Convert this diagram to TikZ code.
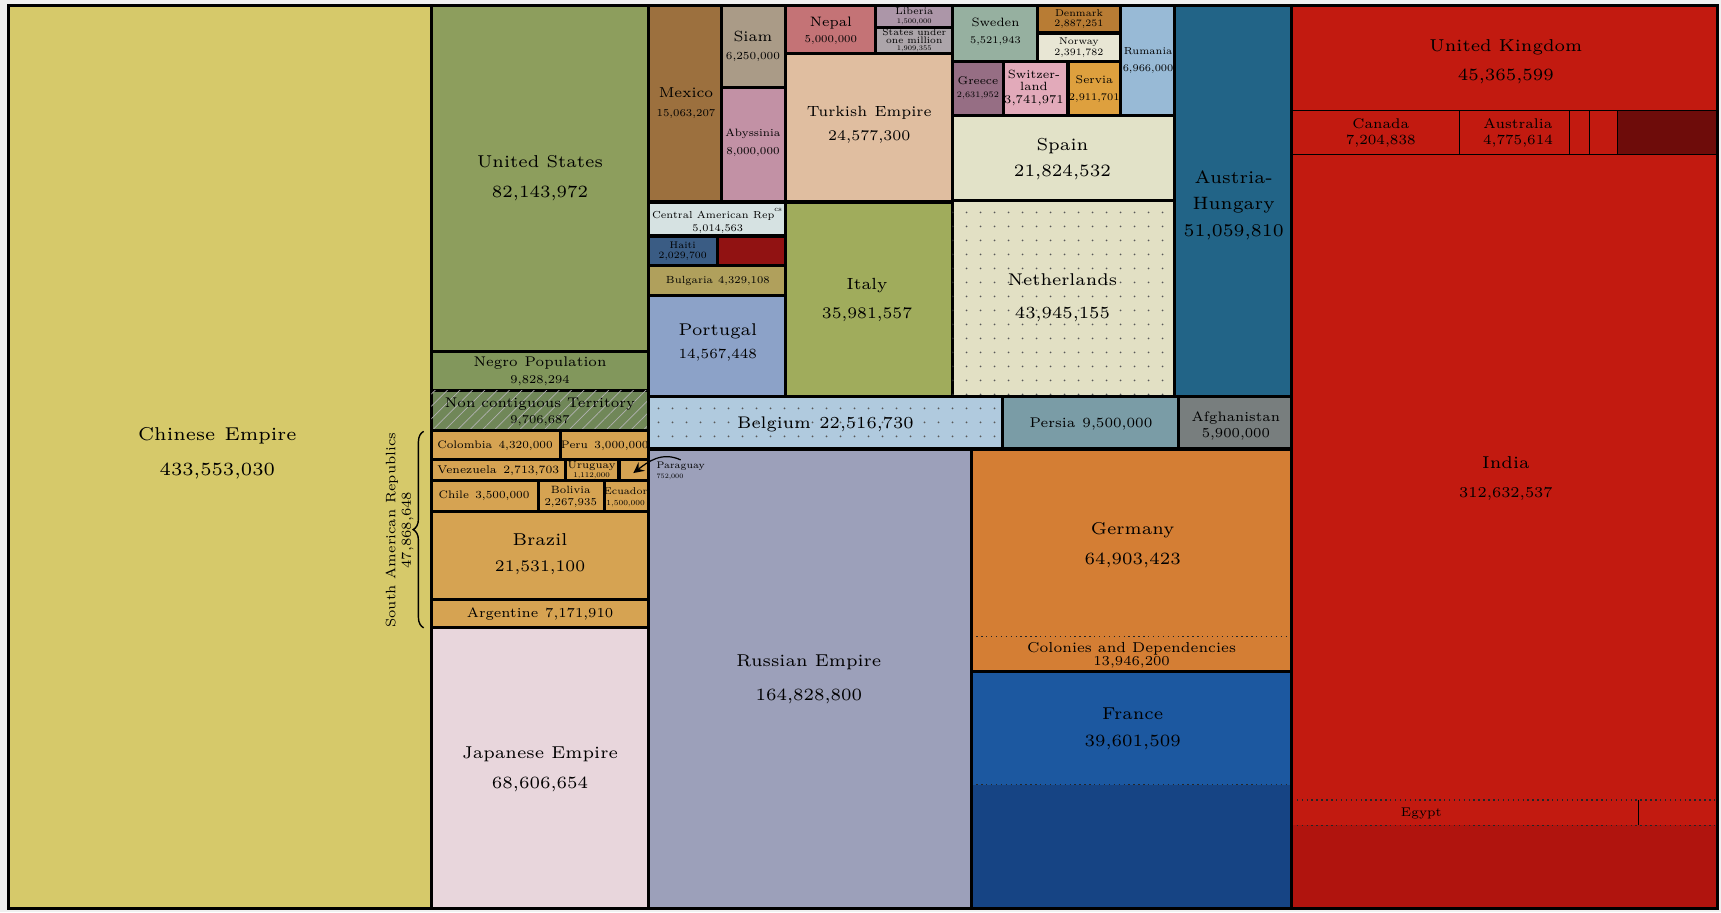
\documentclass[tikz,border=0pt]{standalone}
\usepackage{tikz}
\usetikzlibrary{patterns.meta,decorations.pathreplacing}

\DeclareFontFamily{TU}{lmsix}{}
\DeclareFontShape{TU}{lmsix}{m}{n}{<-> "[lmroman6-regular]:+tlig;"}{}
\newcommand{\lbfont}[2]{\fontencoding{TU}\fontfamily{lmsix}\fontsize{#1}{#2}\selectfont}
\newcommand{\wee}{\lbfont{2.1}{2.4}}

\definecolor{chinayellow}{RGB}{214,201,106}
\definecolor{usgreen}{RGB}{141,158,93}
\definecolor{negrogreen}{RGB}{130,151,92}
\definecolor{noncontgreen}{RGB}{112,135,88}
\definecolor{samertan}{RGB}{214,163,82}
\definecolor{japanpink}{RGB}{232,214,220}
\definecolor{mexicobrown}{RGB}{156,112,62}
\definecolor{siamgrey}{RGB}{170,155,135}
\definecolor{abyssmauve}{RGB}{194,145,165}
\definecolor{nepalrose}{RGB}{196,115,118}
\definecolor{liberiamauve}{RGB}{172,150,168}
\definecolor{minorgrey}{RGB}{172,165,170}
\definecolor{turkeytan}{RGB}{224,190,160}
\definecolor{camerpale}{RGB}{214,226,226}
\definecolor{haitiblue}{RGB}{58,92,132}
\definecolor{dominred}{RGB}{145,18,18}
\definecolor{bulgolive}{RGB}{176,160,92}
\definecolor{portublue}{RGB}{140,162,200}
\definecolor{italygreen}{RGB}{160,172,92}
\definecolor{swedengrey}{RGB}{150,176,160}
\definecolor{denmarkbrown}{RGB}{184,124,52}
\definecolor{norwaycream}{RGB}{232,230,212}
\definecolor{greecemauve}{RGB}{150,110,132}
\definecolor{swisspink}{RGB}{226,170,186}
\definecolor{serviaorange}{RGB}{222,160,62}
\definecolor{rumaniablue}{RGB}{152,186,214}
\definecolor{spaincream}{RGB}{226,226,200}
\definecolor{nethercream}{RGB}{226,224,196}
\definecolor{austriateal}{RGB}{34,100,135}
\definecolor{belgiumblue}{RGB}{176,202,222}
\definecolor{persiateal}{RGB}{122,156,166}
\definecolor{afghangrey}{RGB}{120,126,126}
\definecolor{russialav}{RGB}{156,160,186}
\definecolor{germanorange}{RGB}{212,126,52}
\definecolor{franceblue}{RGB}{28,88,160}
\definecolor{frcolblue}{RGB}{22,68,132}
\definecolor{ukred}{RGB}{194,26,16}
\definecolor{ukdark}{RGB}{110,12,10}
\definecolor{ukbottom}{RGB}{176,20,14}

\tikzstyle{cell}=[draw=black, line width=0.9pt]
\tikzstyle{sub}=[draw=black, line width=0.35pt]
\tikzstyle{thinsep}=[draw=black!85, line width=0.4pt, densely dotted]
\tikzstyle{speckled}=[postaction={pattern={Dots[distance=4pt,radius=0.3pt]},pattern color=black!65}]
\tikzstyle{hatched}=[postaction={pattern={Lines[angle=45,distance=2.5pt,line width=0.2pt]},pattern color=black!30}]
\tikzstyle{pointer}=[->, >=stealth, line width=0.35pt]
\tikzstyle{big}=[align=center, font=\lbfont{4.9}{8.5}]
\tikzstyle{mid}=[align=center, font=\lbfont{4}{4.8}]
\tikzstyle{sml}=[align=center, font=\lbfont{3.1}{3.6}]

\begin{document}
\begin{tikzpicture}[x=0.011cm, y=-0.011cm]
  \useasboundingbox (0,0) rectangle (1568,831);
  \fill[gray!12] (0,0) rectangle (1568,831);

  % first two columns
  \draw[cell, fill=chinayellow] (8,5) rectangle (393,828);
  \draw[cell, fill=usgreen] (393,5) rectangle (591,320);
  \draw[cell, fill=negrogreen] (393,320) rectangle (591,356);
  \draw[cell, fill=noncontgreen, hatched] (393,356) rectangle (591,392);
  \draw[cell, fill=samertan] (393,392) rectangle (511,419);
  \draw[cell, fill=samertan] (511,392) rectangle (591,419);
  \draw[cell, fill=samertan] (393,419) rectangle (515,438);
  \draw[cell, fill=samertan] (515,419) rectangle (564,438);
  \draw[cell, fill=samertan] (564,419) rectangle (591,438);
  \draw[cell, fill=samertan] (393,438) rectangle (491,466);
  \draw[cell, fill=samertan] (491,438) rectangle (551,466);
  \draw[cell, fill=samertan] (551,438) rectangle (591,466);
  \draw[cell, fill=samertan] (393,466) rectangle (591,546);
  \draw[cell, fill=samertan] (393,546) rectangle (591,572);
  \draw[cell, fill=japanpink] (393,572) rectangle (591,828);

  % small states
  \draw[cell, fill=mexicobrown] (591,5) rectangle (657,184);
  \draw[cell, fill=siamgrey] (657,5) rectangle (716,80);
  \draw[cell, fill=abyssmauve] (657,80) rectangle (716,184);
  \draw[cell, fill=nepalrose] (716,5) rectangle (798,49);
  \draw[cell, fill=liberiamauve] (798,5) rectangle (868,25);
  \draw[cell, fill=minorgrey] (798,25) rectangle (868,49);
  \draw[cell, fill=turkeytan] (716,49) rectangle (868,184);
  \draw[cell, fill=camerpale] (591,184) rectangle (716,215);
  \draw[cell, fill=haitiblue] (591,215) rectangle (654,242);
  \draw[cell, fill=dominred] (654,215) rectangle (716,242);
  \draw[cell, fill=bulgolive] (591,242) rectangle (716,269);
  \draw[cell, fill=portublue] (591,269) rectangle (716,361);
  \draw[cell, fill=italygreen] (716,184) rectangle (868,361);
  \draw[cell, fill=swedengrey] (868,5) rectangle (945,56);
  \draw[cell, fill=denmarkbrown] (945,5) rectangle (1021,30);
  \draw[cell, fill=norwaycream] (945,30) rectangle (1021,56);
  \draw[cell, fill=greecemauve] (868,56) rectangle (914,105);
  \draw[cell, fill=swisspink] (914,56) rectangle (973,105);
  \draw[cell, fill=serviaorange] (973,56) rectangle (1021,105);
  \draw[cell, fill=rumaniablue] (1021,5) rectangle (1070,105);
  \draw[cell, fill=spaincream] (868,105) rectangle (1070,183);
  \draw[cell, fill=nethercream, speckled] (868,183) rectangle (1070,361);
  \draw[cell, fill=austriateal] (1070,5) rectangle (1177,361);
  \draw[cell, fill=belgiumblue, speckled] (591,361) rectangle (913,409);
  \draw[cell, fill=persiateal] (913,361) rectangle (1074,409);
  \draw[cell, fill=afghangrey] (1074,361) rectangle (1177,409);

  % lower middle
  \draw[cell, fill=russialav] (591,409) rectangle (885,828);
  \fill[germanorange] (885,409) rectangle (1177,612);
  \draw[thinsep] (885,580) -- (1177,580);
  \draw[cell] (885,409) rectangle (1177,612);
  \fill[franceblue] (885,612) rectangle (1177,715);
  \fill[frcolblue] (885,715) rectangle (1177,828);
  \draw[thinsep] (885,715) -- (1177,715);
  \draw[cell] (885,612) rectangle (1177,828);

  % british empire
  \fill[ukred] (1177,5) rectangle (1565,828);
  \fill[ukdark] (1474,101) rectangle (1565,141);
  \fill[ukbottom] (1177,752) rectangle (1565,828);
  \draw[sub] (1177,101) -- (1565,101) (1177,141) -- (1565,141);
  \draw[sub] (1330,101) -- (1330,141) (1430,101) -- (1430,141)
    (1448,101) -- (1448,141) (1474,101) -- (1474,141);
  \draw[thinsep] (1177,729) -- (1565,729) (1177,752) -- (1565,752);
  \draw[sub] (1493,729) -- (1493,752);
  \draw[cell] (1177,5) rectangle (1565,828);

  % labels
  \node[big, font=\lbfont{5.3}{10}] (china) at (198,413) {Chinese\enspace Empire\\433,553,030};
  \node[big] (usa) at (492,162) {United States\\82,143,972};
  \node[mid] (negro) at (492,338) {Negro\enspace Population\\{\lbfont{3.4}{4}9,828,294}};
  \node[mid, font=\lbfont{4}{4.5}] (noncont) at (492,375)
    {Non contiguous Territory\\{\lbfont{3.4}{4}9,706,687}};
  \node[sml] (colombia) at (451,406) {Colombia\, 4,320,000};
  \node[sml] (peru) at (551,406) {Peru\, 3,000,000};
  \node[sml, font=\lbfont{3.2}{3.6}] (venezuela) at (454,429) {Venezuela\, 2,713,703};
  \node[sml, font=\lbfont{3}{2.6}] (uruguay) at (539,428) {Uruguay\\{\wee 1,112,000}};
  \node[sml] (chile) at (441,452) {Chile\, 3,500,000};
  \node[sml, font=\lbfont{3}{3.5}] (bolivia) at (520,453) {Bolivia\\2,267,935};
  \node[sml, font=\lbfont{2.8}{3.1}] (ecuador) at (570,453) {Ecuador\\{\lbfont{2.2}{2.5}1,500,000}};
  \node[big, font=\lbfont{4.9}{7.5}] (brazil) at (492,505) {Brazil\\{\lbfont{4.6}{5}21,531,100}};
  \node[mid, font=\lbfont{3.9}{4.5}] (argentine) at (492,559) {Argentine\enspace 7,171,910};
  \node[big] (japan) at (492,701) {Japanese Empire\\68,606,654};
  \node[align=center, rotate=90, font=\lbfont{3.9}{4.4}] (sarep) at (364,483)
    {South American Republics\\47,868,648};
  \draw[decorate, decoration={brace, amplitude=3pt}, line width=0.4pt]
    (386,572) -- (386,393);
  \node[align=left, anchor=west, inner sep=0.5pt, font=\lbfont{2.75}{2.6}] (paraguay)
    at (596,429) {Paraguay\\{\lbfont{1.9}{2.2}752,000}};
  \coordinate (pgytip) at (577,431);
  \draw[pointer] (paraguay.north) .. controls (603,411) and (590,421) .. (pgytip);

  \node[mid, font=\lbfont{4.1}{5.3}] (mexico) at (625,94) {Mexico\\{\lbfont{3}{3.5}15,063,207}};
  \node[mid, font=\lbfont{4.2}{5}] (siam) at (686,42) {Siam\\{\lbfont{3.1}{3.5}6,250,000}};
  \node[sml, font=\lbfont{3.05}{5.3}] (abyssinia) at (686,130) {Abyssinia\\8,000,000};
  \node[mid, font=\lbfont{3.9}{4.4}] (nepal) at (757,28) {Nepal\\{\lbfont{3}{3.5}5,000,000}};
  \node[sml, font=\lbfont{2.85}{2.5}] (liberia) at (833,15) {Liberia\\{\lbfont{2}{2.2}1,500,000}};
  \node[sml, font=\lbfont{2.7}{2.2}] (minor) at (833,37)
    {States under\\one million\\{\lbfont{2}{2.2}1,909,355}};
  \node[big, font=\lbfont{4.2}{6.9}] (turkey) at (792,114) {Turkish\enspace Empire\\24,577,300};
  \node[sml, font=\lbfont{2.9}{3.8}] (camer) at (654,201)
    {Central American Rep\textsuperscript{cs}\\5,014,563};
  \node[sml, font=\lbfont{2.75}{2.8}] (haiti) at (622,229) {Haiti\\2,029,700};
  \node[sml, font=\lbfont{2.95}{3.4}] (bulgaria) at (654,256) {Bulgaria\enspace 4,329,108};
  \node[big, font=\lbfont{4.85}{6.6}] (portugal) at (654,312) {Portugal\\{\lbfont{4}{4.5}14,567,448}};
  \node[big, font=\lbfont{4.6}{8.2}] (italy) at (790,273) {Italy\\35,981,557};
  \node[sml, font=\lbfont{3.45}{5}] (sweden) at (907,29) {Sweden\\{\lbfont{2.9}{3.4}5,521,943}};
  \node[sml, font=\lbfont{2.8}{2.8}] (denmark) at (983,17) {Denmark\\2,887,251};
  \node[sml, font=\lbfont{2.8}{3.1}] (norway) at (983,43) {Norway\\2,391,782};
  \node[sml, font=\lbfont{3.2}{3.8}] (greece) at (891,80) {Greece\\{\lbfont{2.4}{2.7}2,631,952}};
  \node[sml, font=\lbfont{3.4}{3.6}] (swiss) at (942,80) {Switzer-\\land\\3,741,971};
  \node[sml, font=\lbfont{3.2}{4.7}] (servia) at (997,81) {Servia\\{\lbfont{2.9}{3.2}2,911,701}};
  \node[sml, font=\lbfont{2.9}{4.7}] (rumania) at (1046,55) {Rumania\\6,966,000};
  \node[big, font=\lbfont{4.95}{7.2}] (spain) at (968,145) {Spain\\21,824,532};
  \node[big, font=\lbfont{4.85}{9.4}] (nether) at (968,271) {Netherlands\\43,945,155};
  \node[big, font=\lbfont{5.1}{7.5}] (austria) at (1124,187) {Austria-\\Hungary\\51,059,810};
  \node[big, font=\lbfont{4.8}{5}] (belgium) at (752,387) {Belgium\enspace 22,516,730};
  \node[mid, font=\lbfont{4}{4.5}] (persia) at (994,386) {Persia\enspace 9,500,000};
  \node[mid, font=\lbfont{3.9}{4.7}] (afghan) at (1126,388) {Afghanistan\\5,900,000};
  \node[big, font=\lbfont{4.9}{9.7}] (russia) at (737,619) {Russian Empire\\164,828,800};
  \node[big] (germany) at (1032,497) {Germany\\64,903,423};
  \node[mid, font=\lbfont{4.1}{3.8}] (gercol) at (1031,597)
    {Colonies and Dependencies\\{\lbfont{3.9}{4}13,946,200}};
  \node[big, font=\lbfont{4.9}{7.8}] (france) at (1032,664) {France\\39,601,509};
  \node[big, font=\lbfont{4.9}{8.2}] (uk) at (1372,56) {United Kingdom\\45,365,599};
  \node[mid, font=\lbfont{4}{4.7}] (canada) at (1258,121) {Canada\\7,204,838};
  \node[mid, font=\lbfont{4}{4.7}] (australia) at (1383,121) {Australia\\4,775,614};
  \node[big] (india) at (1372,436) {India\\{\lbfont{4.3}{5}312,632,537}};
  \node[mid, font=\lbfont{3.6}{4}] (egypt) at (1295,741) {Egypt};
\end{tikzpicture}
\end{document}
